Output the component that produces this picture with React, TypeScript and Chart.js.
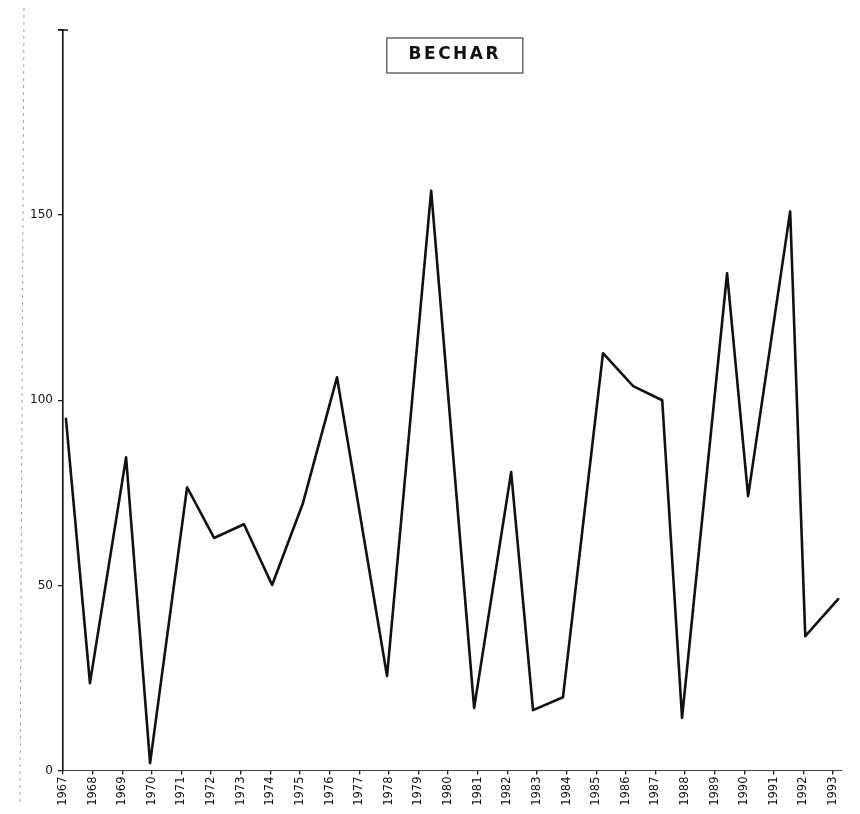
import React, { useEffect, useRef } from "react";
import { Chart, registerables } from "chart.js";

Chart.register(...registerables);

const chartTitle = "BECHAR";
const tickYears = [
  1967, 1968, 1969, 1970, 1971, 1972, 1973, 1974, 1975, 1976, 1977, 1978, 1979,
  1980, 1981, 1982, 1983, 1984, 1985, 1986, 1987, 1988, 1989, 1990, 1991, 1992, 1993,
];
const yTicks = [0, 50, 100, 150, 200];
// positions of the hand-drawn vertices along the year axis
const pointYears = [
  1967.1, 1967.91, 1969.13, 1969.94, 1971.19, 1972.1, 1973.11, 1974.06, 1975.1,
  1976.25, 1977.94, 1979.43, 1980.88, 1982.13, 1982.87, 1983.88, 1985.23,
  1986.25, 1987.23, 1987.9, 1989.42, 1990.13, 1991.55, 1992.06, 1993.17,
];
const rainfall = [
  95, 23.6, 84.6, 2, 76.5, 62.8, 66.5, 50.1, 72.2, 106.2, 25.5, 156.6, 16.9,
  80.6, 16.3, 19.8, 112.7, 103.8, 100, 14.2, 134.3, 74.1, 151, 36.3, 46.3,
];

const titleBoxPlugin = {
  id: "titleBox",
  afterDraw(chart: any) {
    const { ctx, chartArea } = chart;
    ctx.save();
    // faint scan edge line on the left
    ctx.strokeStyle = "rgba(90,90,90,0.55)";
    ctx.lineWidth = 1;
    ctx.setLineDash([3, 4]);
    ctx.beginPath();
    ctx.moveTo(24, 8);
    ctx.lineTo(20, 806);
    ctx.stroke();
    ctx.setLineDash([]);
    // title box
    const cx = chartArea.left + (chartArea.right - chartArea.left) * 0.503;
    const cy = chartArea.top + 25;
    ctx.font = "bold 17px 'DejaVu Sans'";
    (ctx as any).letterSpacing = "2.5px";
    ctx.fillStyle = "#111";
    ctx.textAlign = "center";
    ctx.textBaseline = "middle";
    ctx.fillText(chartTitle, cx, cy);
    ctx.strokeStyle = "#444";
    ctx.lineWidth = 1.2;
    ctx.strokeRect(cx - 68, cy - 17, 136, 35);
    // cap at top of y axis
    ctx.strokeStyle = "#111";
    ctx.lineWidth = 1.5;
    ctx.beginPath();
    ctx.moveTo(chartArea.left - 5, chartArea.top);
    ctx.lineTo(chartArea.left + 5, chartArea.top);
    ctx.stroke();
    ctx.restore();
  },
};

export default function App() {
  const ref = useRef<HTMLCanvasElement | null>(null);

  useEffect(() => {
    document.body.style.margin = "0";
    document.body.style.overflow = "hidden";
    const canvas = ref.current;
    if (!canvas) return;
    const data = pointYears.map((x, i) => ({ x, y: rainfall[i] }));
    const chart = new Chart(canvas, {
      type: "line",
      data: {
        datasets: [
          {
            data,
            borderColor: "#111",
            borderWidth: 2.6,
            borderJoinStyle: "round",
            borderCapStyle: "round",
            pointRadius: 0,
            tension: 0,
            fill: false,
          },
        ],
      },
      options: {
        responsive: false,
        animation: false,
        layout: { padding: { top: 30, left: 6, right: 18, bottom: 6 } },
        plugins: {
          legend: { display: false },
          title: { display: false },
          tooltip: { enabled: false },
        },
        scales: {
          x: {
            type: "linear",
            min: 1967,
            max: 1993.3,
            afterBuildTicks: (scale: any) => {
              scale.ticks = tickYears.map((v) => ({ value: v }));
            },
            afterFit: (scale: any) => {
              scale.height = 37.5;
            },
            grid: {
              drawOnChartArea: false,
              drawTicks: true,
              tickLength: 4,
              color: "#222",
              lineWidth: 1.3,
            },
            border: { display: true, color: "#444", width: 1 },
            ticks: {
              autoSkip: false,
              minRotation: 90,
              maxRotation: 90,
              padding: 2,
              color: "#111",
              font: { family: "'DejaVu Sans'", size: 11.5 },
              callback: (v: any) => String(v),
            },
          },
          y: {
            type: "linear",
            min: 0,
            max: 200,
            afterBuildTicks: (scale: any) => {
              scale.ticks = yTicks.map((v) => ({ value: v }));
            },
            afterFit: (scale: any) => {
              scale.width = 57;
            },
            grid: {
              drawOnChartArea: false,
              drawTicks: true,
              tickLength: 5,
              color: "#222",
              lineWidth: 1.3,
            },
            border: { display: true, color: "#111", width: 1.6 },
            ticks: {
              padding: 5,
              color: "#111",
              font: { family: "'DejaVu Sans'", size: 12 },
              callback: (v: any) => (v === 200 ? "" : String(v)),
            },
          },
        },
      },
      plugins: [titleBoxPlugin],
    } as any);
    return () => chart.destroy();
  }, []);

  return (
    <div style={{ position: "absolute", left: 0, top: 0, width: 860, height: 814 }}>
      <canvas ref={ref} width={860} height={814} style={{ display: "block" }} />
    </div>
  );
}
